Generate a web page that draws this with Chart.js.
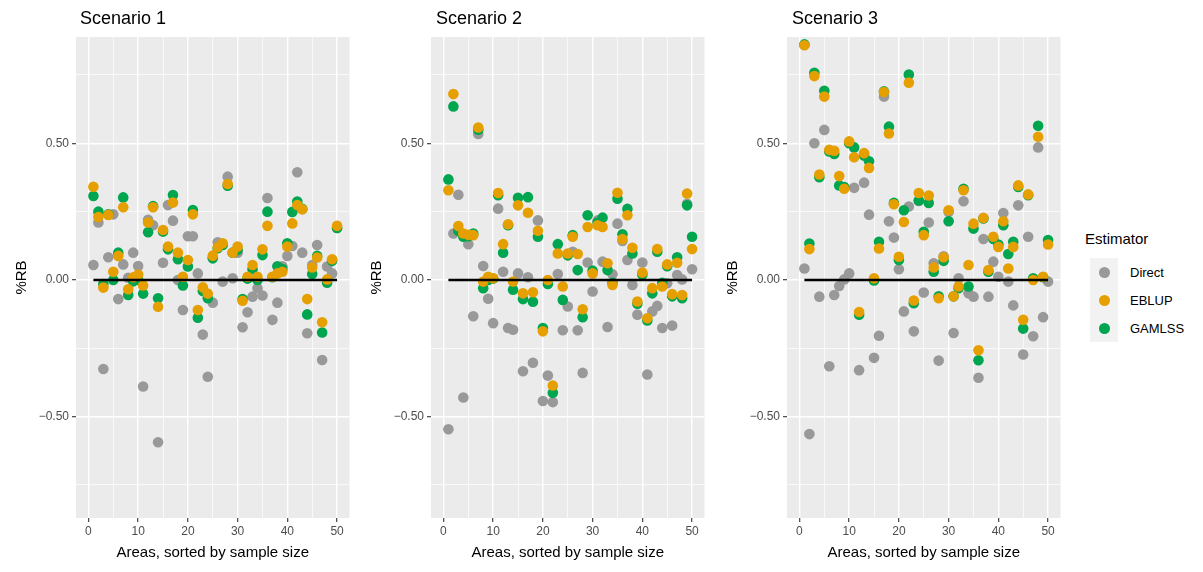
<!DOCTYPE html>
<html>
<head>
<meta charset="utf-8">
<script src="https://cdn.jsdelivr.net/npm/chart.js@4.4.0/dist/chart.umd.min.js"></script>
<style>
body { margin: 0; background: #fff; width: 1203px; height: 572px; overflow: hidden; position: relative;
       font-family: "Liberation Sans", Arial, sans-serif; }
.panel { position: absolute; top: 0; width: 360px; height: 572px; }
.ttl { position: absolute; top: 8px; font-size: 18px; line-height: 20px; color: #000; }
#legend { position: absolute; left: 1085px; top: 229px; }
#legend .head { font-size: 15px; line-height: 20px; margin-bottom: 9px; color: #000; }
#legend .row { display: flex; align-items: center; height: 28px; }
#legend .key { width: 28px; height: 28px; background: #F2F2F2; position: relative; margin-left: 5px; }
#legend .key span { position: absolute; left: 8.5px; top: 8.5px; width: 11px; height: 11px; border-radius: 50%; }
#legend .lab { font-size: 13px; margin-left: 12px; color: #000; }
</style>
</head>
<body>
<div class="panel" style="left:0px"><canvas id="c1" width="360" height="572"></canvas></div>
<div class="panel" style="left:355px"><canvas id="c2" width="360" height="572"></canvas></div>
<div class="panel" style="left:711px"><canvas id="c3" width="360" height="572"></canvas></div>
<div class="ttl" style="left:80px">Scenario 1</div>
<div class="ttl" style="left:436px">Scenario 2</div>
<div class="ttl" style="left:792px">Scenario 3</div>
<div id="legend">
  <div class="head">Estimator</div>
  <div class="row"><div class="key"><span style="background:#999999"></span></div><div class="lab">Direct</div></div>
  <div class="row"><div class="key"><span style="background:#E69F00"></span></div><div class="lab">EBLUP</div></div>
  <div class="row"><div class="key"><span style="background:#00A550"></span></div><div class="lab">GAMLSS</div></div>
</div>
<script>
// Areas (sorted by sample size)
const areas = [1,2,3,4,5,6,7,8,9,10,11,12,13,14,15,16,17,18,19,20,21,22,23,24,25,
               26,27,28,29,30,31,32,33,34,35,36,37,38,39,40,41,42,43,44,45,46,47,48,49,50];

// Scenario 1 - %RB je Schätzer
const s1Direct = [0.055,0.21,-0.326,0.083,0.24,-0.07,0.057,0.008,0.1,0.051,
                  -0.39,0.22,0.2,-0.594,0.063,0.274,0.217,0.0,-0.11,0.16,
                  0.16,0.024,-0.2,-0.354,-0.083,0.138,-0.006,0.378,0.006,0.1,
                  -0.173,-0.118,-0.061,-0.03,-0.057,0.3,-0.146,-0.083,0.05,0.088,
                  0.124,0.394,0.1,-0.195,0.055,0.128,-0.293,0.049,0.024,0.19];
const s1Eblup  = [0.341,0.23,-0.028,0.238,0.03,0.088,0.266,-0.034,0.01,0.02,
                  -0.02,0.21,0.266,-0.098,0.183,0.122,0.283,0.1,0.012,0.073,
                  0.24,-0.11,-0.027,-0.05,0.089,0.12,0.134,0.351,0.1,0.122,
                  -0.076,0.012,0.055,0.012,0.112,0.198,0.012,0.024,0.03,0.122,
                  0.207,0.274,0.259,-0.07,0.046,0.082,-0.155,0.002,0.076,0.198];
const s1Gamlss = [0.307,0.25,-0.015,0.24,0.0,0.1,0.302,-0.055,-0.005,0.0,
                  -0.05,0.175,0.27,-0.067,0.177,0.112,0.311,0.076,-0.02,0.049,
                  0.256,-0.138,-0.04,-0.067,0.079,0.116,0.128,0.345,0.1,0.11,
                  -0.07,0.005,0.039,0.0,0.091,0.25,0.01,0.05,0.04,0.134,
                  0.249,0.287,0.26,-0.126,0.022,0.088,-0.192,-0.01,0.07,0.19];

// Scenario 2
const s2Direct = [-0.546,0.17,0.312,-0.43,0.131,-0.133,0.534,0.051,-0.069,-0.158,
                  0.261,0.03,-0.176,-0.182,0.024,-0.334,0.01,-0.303,0.218,-0.443,
                  -0.35,-0.447,0.022,-0.184,-0.097,0.103,-0.184,-0.34,0.064,-0.042,
                  0.218,0.067,-0.172,0.021,0.206,0.143,0.073,-0.018,-0.127,0.064,
                  -0.346,-0.115,-0.095,-0.176,-0.012,-0.167,0.018,0.002,0.279,0.039];
const s2Eblup  = [0.328,0.68,0.197,0.17,0.165,0.164,0.558,-0.006,0.012,0.006,
                  0.318,0.131,0.204,-0.006,0.273,-0.049,0.246,-0.045,0.18,-0.188,
                  0.0,-0.386,0.097,-0.024,0.097,0.158,0.095,-0.107,0.194,0.024,
                  0.2,0.194,0.061,-0.018,0.319,0.15,0.237,0.118,-0.079,0.027,
                  -0.14,-0.03,0.113,-0.024,0.057,-0.052,0.063,-0.055,0.316,0.113];
const s2Gamlss = [0.368,0.635,0.18,0.158,0.16,0.17,0.55,-0.03,0.0,0.005,
                  0.31,0.1,0.2,-0.036,0.301,-0.07,0.303,-0.08,0.158,-0.176,
                  -0.015,-0.413,0.131,-0.073,0.09,0.164,0.036,-0.136,0.237,0.034,
                  0.21,0.228,0.036,-0.01,0.297,0.167,0.26,0.097,-0.087,0.02,
                  -0.148,-0.049,0.103,-0.01,0.05,-0.06,0.083,-0.067,0.273,0.158];

// Scenario 3
const s3Direct = [0.042,-0.564,0.5,-0.061,0.549,-0.316,-0.055,-0.022,0.002,0.024,
                  0.337,-0.33,0.356,0.239,-0.285,-0.204,0.671,0.215,0.155,0.039,
                  -0.115,0.269,-0.188,0.289,-0.046,0.21,0.061,-0.295,0.087,0.249,
                  -0.194,0.006,0.288,-0.049,-0.061,-0.358,0.15,-0.061,0.067,0.012,
                  0.245,-0.006,-0.093,0.273,-0.273,0.158,-0.206,0.485,-0.136,-0.006];
const s3Eblup  = [0.859,0.113,0.746,0.386,0.671,0.476,0.473,0.38,0.334,0.507,
                  0.449,-0.117,0.464,0.41,0.006,0.115,0.688,0.536,0.277,0.085,
                  0.212,0.722,-0.075,0.318,0.164,0.309,0.046,-0.067,0.083,0.255,
                  -0.06,-0.024,0.328,0.055,0.206,-0.257,0.227,0.036,0.158,0.121,
                  0.215,0.042,0.121,0.346,-0.146,0.313,0.0,0.524,0.012,0.13];
const s3Gamlss = [0.862,0.133,0.758,0.376,0.692,0.47,0.461,0.346,0.34,0.5,
                  0.485,-0.127,0.455,0.434,-0.002,0.14,0.69,0.561,0.282,0.073,
                  0.255,0.752,-0.085,0.291,0.176,0.282,0.03,-0.06,0.07,0.215,
                  -0.06,-0.03,0.334,-0.024,0.188,-0.294,0.225,0.03,0.15,0.13,
                  0.2,0.095,0.14,0.34,-0.178,0.31,0.006,0.564,0.01,0.146];

// Achsen
const xTickValues = [0,5,10,15,20,25,30,35,40,45,50];
const xTickLabels = ['0','','10','','20','','30','','40','','50'];
const yTickValues = [-0.75,-0.5,-0.25,0,0.25,0.5,0.75];
const yTickLabels = ['','\u22120.50','','0.00','','0.50',''];

const colors = { direct: '#999999', eblup: '#E69F00', gamlss: '#00A550' };

// grauer Panel-Hintergrund
const panelBg = {
    id: 'panelBg',
    beforeDraw(chart) {
        const { ctx, chartArea: a } = chart;
        ctx.save();
        ctx.fillStyle = '#EBEBEB';
        ctx.fillRect(a.left, a.top, a.width, a.height);
        ctx.restore();
    }
};

function toPoints(values) {
    return areas.map((a, i) => ({ x: a, y: values[i] }));
}

function makePanel(id, direct, eblup, gamlss) {
    return new Chart(document.getElementById(id), {
        type: 'scatter',
        data: {
            datasets: [
                {
                    type: 'line',
                    label: 'ref',
                    data: [{ x: areas[0], y: 0 }, { x: areas[areas.length - 1], y: 0 }],
                    borderColor: '#000000',
                    borderWidth: 2.6,
                    pointRadius: 0,
                    order: 0
                },
                { label: 'EBLUP', data: toPoints(eblup), backgroundColor: colors.eblup, order: 1 },
                { label: 'GAMLSS', data: toPoints(gamlss), backgroundColor: colors.gamlss, order: 2 },
                { label: 'Direct', data: toPoints(direct), backgroundColor: colors.direct, order: 3 }
            ]
        },
        options: {
            responsive: false,
            animation: false,
            events: [],
            layout: { padding: { top: 37, left: 0, right: 10.5, bottom: 0 } },
            elements: { point: { radius: 5.3, borderWidth: 0, hoverRadius: 5.3 } },
            plugins: { legend: { display: false }, tooltip: { enabled: false } },
            scales: {
                x: {
                    type: 'linear',
                    min: -2.5,
                    max: 52.5,
                    border: { display: false },
                    afterBuildTicks: (scale) => { scale.ticks = xTickValues.map(v => ({ value: v })); },
                    afterFit: (scale) => { scale.height = 54; },
                    grid: {
                        color: '#FFFFFF',
                        lineWidth: (ctx) => (ctx.tick && ctx.tick.value % 10 === 0) ? 1.4 : 0.7,
                        tickLength: 4,
                        tickWidth: 1.1,
                        tickColor: (ctx) => (ctx.tick && ctx.tick.value % 10 === 0) ? '#333333' : 'rgba(0,0,0,0)'
                    },
                    ticks: {
                        autoSkip: false,
                        maxRotation: 0,
                        padding: 2,
                        color: '#4D4D4D',
                        font: { size: 12 },
                        callback: (value, index) => xTickLabels[index]
                    },
                    title: {
                        display: true,
                        text: 'Areas, sorted by sample size',
                        color: '#000000',
                        font: { size: 15 },
                        padding: { top: 0, bottom: 10 }
                    }
                },
                y: {
                    type: 'linear',
                    min: -0.871,
                    max: 0.889,
                    border: { display: false },
                    afterBuildTicks: (scale) => { scale.ticks = yTickValues.map(v => ({ value: v })); },
                    afterFit: (scale) => { scale.width = 76; },
                    grid: {
                        color: '#FFFFFF',
                        lineWidth: (ctx) => (ctx.tick && Math.abs(ctx.tick.value * 2 % 1) < 1e-9) ? 1.4 : 0.7,
                        tickLength: 4,
                        tickWidth: 1.1,
                        tickColor: (ctx) => (ctx.tick && Math.abs(ctx.tick.value * 2 % 1) < 1e-9) ? '#333333' : 'rgba(0,0,0,0)'
                    },
                    ticks: {
                        autoSkip: false,
                        padding: 3,
                        color: '#4D4D4D',
                        font: { size: 12 },
                        callback: (value, index) => yTickLabels[index]
                    },
                    title: {
                        display: true,
                        text: '%RB',
                        color: '#000000',
                        font: { size: 15 },
                        padding: { top: 13, bottom: 0 }
                    }
                }
            }
        },
        plugins: [panelBg]
    });
}

Chart.defaults.font.family = '"Liberation Sans", Arial, sans-serif';

const chart1 = makePanel('c1', s1Direct, s1Eblup, s1Gamlss);
const chart2 = makePanel('c2', s2Direct, s2Eblup, s2Gamlss);
const chart3 = makePanel('c3', s3Direct, s3Eblup, s3Gamlss);
</script>
</body>
</html>
